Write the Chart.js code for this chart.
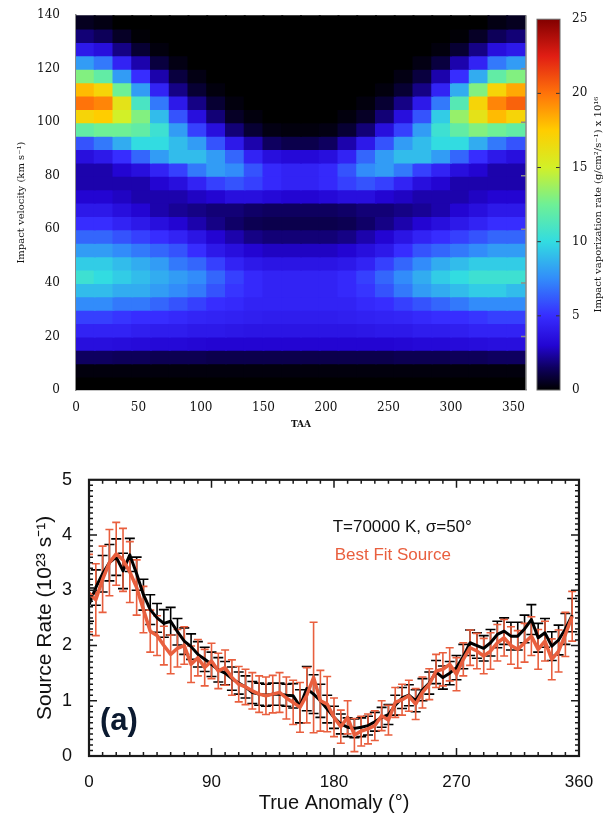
<!DOCTYPE html>
<html>
<head>
<meta charset="utf-8">
<script src="https://cdn.jsdelivr.net/npm/chart.js@4.4.1/dist/chart.umd.min.js"></script>
<style>
  body { margin: 0; background: #fff; }
  #wrap { position: relative; width: 608px; height: 816px; }
  canvas { position: absolute; }
  #heatmap { left: 0; top: 0; }
  #colorbar { left: 530px; top: 0; }
  #rates { left: 0; top: 460px; }
</style>
</head>
<body>
<div id="wrap">
  <canvas id="heatmap" width="530" height="440"></canvas>
  <canvas id="colorbar" width="78" height="440"></canvas>
  <canvas id="rates" width="608" height="356"></canvas>
</div>
<script>
// ---- top panel: impact vaporization rate, TAA vs impact velocity ----
const taaCenters = [7.5, 22.5, 37.5, 52.5, 67.5, 82.5, 97.5, 112.5, 127.5, 142.5, 157.5, 172.5,
                    187.5, 202.5, 217.5, 232.5, 247.5, 262.5, 277.5, 292.5, 307.5, 322.5, 337.5, 352.5];
const velocityCenters = [137.5, 132.5, 127.5, 122.5, 117.5, 112.5, 107.5, 102.5, 97.5, 92.5, 87.5, 82.5, 77.5, 72.5,
                         67.5, 62.5, 57.5, 52.5, 47.5, 42.5, 37.5, 32.5, 27.5, 22.5, 17.5, 12.5, 7.5, 2.5];
// one row per velocity (top to bottom), one value per TAA column, x 10^16
const vaporRate = [
  [0.5,0.3,0,0,0,0,0,0,0,0,0,0, 0,0,0,0,0,0,0,0,0,0,0.3,0.5],
  [1.8,1.4,0.6,0.1,0,0,0,0,0,0,0,0, 0,0,0,0,0,0,0,0,0.1,0.6,1.4,1.8],
  [4,3.5,2,0.8,0.2,0,0,0,0,0,0,0, 0,0,0,0,0,0,0,0.2,0.8,2,3.5,4],
  [8,7,4.5,2.5,1,0.3,0,0,0,0,0,0, 0,0,0,0,0,0,0.3,1,2.5,4.5,7,8],
  [13,12,8,5,2.5,1,0.3,0,0,0,0,0, 0,0,0,0,0,0.3,1,2.5,5,8.5,12,13],
  [18,17,12.5,8,4.5,2,0.8,0.2,0,0,0,0, 0,0,0,0,0.2,0.8,2,4.5,8.5,13,17,18.5],
  [20,19.5,16,11,7,4,2,0.8,0.2,0,0,0, 0,0,0,0.2,0.8,2,4,7,11.5,17,19.5,20.5],
  [17,17.5,15,13,9,6,3.5,1.8,0.6,0.2,0,0, 0,0,0.2,0.6,1.8,3.5,6,9.5,13.5,16,18,17],
  [12,12.5,12.5,12,10.5,8,5.5,3.5,1.8,0.8,0.3,0.2, 0.2,0.3,0.8,1.8,3.5,5.5,8,10.5,12,13,12.5,12],
  [6,7,8.5,10,10,9,8,6,4,2.5,1.5,1.2, 1.2,1.5,2.5,4,6,8,9,10,10,8.5,7,6],
  [3.5,4,5,6.5,8,9,9,8,6.5,4.5,3.5,3.2, 3.2,3.5,4.5,6.5,8,9,9,8,6.5,5,4,3.5],
  [2.5,2.5,3,3.5,4.5,5.5,7,8,7.5,6,4.8,4.5, 4.5,4.8,6,7.5,8,7,5.5,4.5,3.5,3,2.5,2.5],
  [2.5,2.5,2.5,2.5,3,3.5,4.5,5.5,6,5.5,4.8,4.5, 4.5,4.8,5.5,6,5.5,4.5,3.5,3,2.5,2.5,2.5,2.5],
  [3,3,2.8,2.5,2.5,2.5,2.8,3,3.5,3.5,3.2,3, 3,3.2,3.5,3.5,3,2.8,2.5,2.5,2.5,2.8,3,3],
  [4,4,3.5,3,2.5,2.2,2,1.8,1.8,1.6,1.5,1.5, 1.5,1.5,1.6,1.8,1.8,2,2.2,2.5,3,3.5,4,4],
  [5,5,4.5,4,3.5,3,2.5,2,1.6,1.3,1.2,1.2, 1.2,1.2,1.3,1.6,2,2.5,3,3.5,4,4.5,5,5],
  [6.5,6.5,6,5.5,5,4.5,3.8,3,2.5,2,1.8,1.8, 1.8,1.8,2,2.5,3,3.8,4.5,5,5.5,6,6.5,6.5],
  [8,8,7.5,7,6.5,6,5,4,3.5,3,2.8,2.8, 2.8,2.8,3,3.5,4,5,6,6.5,7,7.5,8,8],
  [9.5,9.5,9,8.5,8,7,6.5,5.5,4.5,4,3.8,3.8, 3.8,3.8,4,4.5,5.5,6.5,7.5,8.5,9,9.5,9.5,9.5],
  [10.5,10,9.5,9,8.5,8,7.5,6.5,5.5,4.8,4.5,4.5, 4.5,4.5,4.8,5.5,6.5,7.5,8.5,9.5,10,10.5,10.5,10.5],
  [9,9,8.5,8.5,8,7.5,7,6,5.2,4.8,4.5,4.5, 4.5,4.5,4.8,5.2,6,7,8,8.5,9,9.5,9.5,9],
  [7.5,7.5,7,7,6.5,6,5.5,5,4.8,4.5,4.5,4.5, 4.5,4.5,4.5,4.8,5,5.5,6,6.5,7,7.5,7.5,7.5],
  [5.5,5.5,5.2,5,5,4.8,4.6,4.5,4.4,4.3,4.2,4.2, 4.2,4.2,4.3,4.4,4.5,4.6,4.8,5,5,5.2,5.5,5.5],
  [4.5,4.5,4.5,4.3,4.2,4.2,4,4,3.9,3.8,3.8,3.8, 3.8,3.8,3.8,3.9,4,4,4.2,4.2,4.3,4.5,4.5,4.5],
  [3.5,3.5,3.4,3.3,3.2,3.2,3.1,3,3,3,3,3, 3,3,3,3,3,3.1,3.2,3.2,3.3,3.4,3.5,3.5],
  [1.5,1.5,1.4,1.4,1.3,1.3,1.3,1.2,1.2,1.2,1.2,1.2, 1.2,1.2,1.2,1.2,1.2,1.3,1.3,1.3,1.4,1.4,1.5,1.5],
  [0.2,0.2,0.2,0.2,0.2,0.2,0.2,0.2,0.2,0.2,0.2,0.2, 0.2,0.2,0.2,0.2,0.2,0.2,0.2,0.2,0.2,0.2,0.2,0.2],
  [0,0,0,0,0,0,0,0,0,0,0,0, 0,0,0,0,0,0,0,0,0,0,0,0]
];
const taaTicks = [0, 50, 100, 150, 200, 250, 300, 350];
const velocityTicks = [0, 20, 40, 60, 80, 100, 120, 140];
const colorbarRange = [0, 25];
const colorbarTicks = [0, 5, 10, 15, 20, 25];

// ---- bottom panel: source rate vs true anomaly ----
const anomaly = [0, 5, 10, 15, 20, 25, 30, 35, 40, 45, 50, 55,
                 60, 65, 70, 75, 80, 85, 90, 95, 100, 105, 110, 115,
                 120, 125, 130, 135, 140, 145, 150, 155, 160, 165, 170, 175,
                 180, 185, 190, 195, 200, 205, 210, 215, 220, 225, 230, 235,
                 240, 245, 250, 255, 260, 265, 270, 275, 280, 285, 290, 295,
                 300, 305, 310, 315, 320, 325, 330, 335, 340, 345, 350, 355];
const obsRate = [2.74, 3.05, 3.3, 3.5, 3.6, 3.35, 3.64, 3.3, 2.92, 2.65, 2.5, 2.4,
                 2.44, 2.25, 2.08, 1.98, 1.84, 1.75, 1.66, 1.56, 1.5, 1.4, 1.32, 1.25,
                 1.15, 1.12, 1.1, 1.12, 1.12, 1.1, 1.09, 0.9, 1.22, 1.12, 1.0, 0.85,
                 0.7, 0.58, 0.52, 0.5, 0.52, 0.55, 0.62, 0.7, 0.75, 0.92, 1.05, 1.1,
                 1.0, 1.2, 1.32, 1.52, 1.42, 1.5, 1.6, 1.8, 2.05, 2.0, 1.95, 2.05,
                 2.2, 2.26, 2.17, 2.17, 2.3, 2.47, 2.14, 2.23, 1.99, 2.1, 2.3, 2.55];
const obsErr = [0.3, 0.32, 0.33, 0.33, 0.33, 0.32, 0.3, 0.3, 0.28, 0.27, 0.26, 0.25,
                0.25, 0.24, 0.24, 0.23, 0.23, 0.22, 0.22, 0.22, 0.21, 0.21, 0.2, 0.2,
                0.2, 0.2, 0.2, 0.2, 0.2, 0.2, 0.22, 0.3, 0.4, 0.35, 0.3, 0.25,
                0.2, 0.18, 0.17, 0.17, 0.17, 0.17, 0.17, 0.18, 0.18, 0.18, 0.19, 0.19,
                0.2, 0.2, 0.2, 0.21, 0.21, 0.21, 0.22, 0.22, 0.23, 0.23, 0.23, 0.24,
                0.24, 0.24, 0.25, 0.25, 0.25, 0.27, 0.26, 0.26, 0.26, 0.27, 0.28, 0.3];
const fitRate = [2.95, 2.83, 3.2, 3.5, 3.66, 3.55, 3.33, 3.05, 2.65, 2.26, 2.18, 2.0,
                 1.84, 1.95, 2.0, 1.66, 1.78, 1.6, 1.72, 1.54, 1.6, 1.42, 1.3, 1.25,
                 1.18, 1.12, 1.09, 1.12, 1.15, 1.05, 0.97, 0.88, 1.1, 1.42, 1.0, 0.94,
                 0.7, 0.53, 0.7, 0.38, 0.45, 0.49, 0.55, 0.73, 0.65, 0.97, 1.02, 1.09,
                 0.94, 1.15, 1.3, 1.54, 1.57, 1.66, 1.48, 1.75, 1.96, 1.9, 1.81, 1.9,
                 2.05, 2.14, 2.0, 1.93, 2.05, 2.17, 1.93, 2.08, 1.75, 1.9, 2.2, 2.53];
const fitErr = [0.7, 0.65, 0.6, 0.6, 0.57, 0.57, 0.55, 0.5, 0.42, 0.38, 0.36, 0.35,
                0.35, 0.34, 0.34, 0.33, 0.33, 0.33, 0.32, 0.32, 0.32, 0.32, 0.32, 0.32,
                0.33, 0.33, 0.34, 0.34, 0.36, 0.38, 0.4, 0.45, 0.5, 1.0, 0.55, 0.5,
                0.35, 0.3, 0.3, 0.3, 0.27, 0.27, 0.27, 0.27, 0.27, 0.27, 0.28, 0.28,
                0.28, 0.28, 0.28, 0.3, 0.3, 0.3, 0.3, 0.3, 0.32, 0.32, 0.32, 0.33,
                0.33, 0.33, 0.34, 0.34, 0.35, 0.35, 0.36, 0.36, 0.37, 0.38, 0.4, 0.45];
const rateTicks = [0, 1, 2, 3, 4, 5];
const anomalyTicks = [0, 90, 180, 270, 360];

// colour map (value -> rgb), black at zero up to dark red
const cmapStops = [
  [0, [0, 0, 0]], [1.5, [14, 0, 95]], [3, [35, 5, 210]], [5, [55, 45, 255]],
  [7.5, [50, 140, 250]], [10, [50, 220, 225]], [12.5, [110, 240, 150]],
  [15, [210, 240, 40]], [17.5, [255, 205, 0]], [20, [255, 115, 10]],
  [22.5, [225, 30, 20]], [25, [130, 0, 0]]
];

function rateColor(v) {
  for (let i = 1; i < cmapStops.length; i++) {
    const [v1, c1] = cmapStops[i];
    const [v0, c0] = cmapStops[i - 1];
    if (v <= v1) {
      const f = (v - v0) / (v1 - v0);
      const c = c0.map((a, k) => Math.round(a + (c1[k] - a) * f));
      return `rgb(${c[0]},${c[1]},${c[2]})`;
    }
  }
  return 'rgb(130,0,0)';
}

const serif = "'DejaVu Serif', serif";
const sans = "'Liberation Sans', Arial, sans-serif";
const RED = 'rgb(233,95,62)';
const cellHalf = 2.5;

// right-edge ticks of the heatmap frame
const heatFrame = {
  id: 'heatFrame',
  afterDraw(chart) {
    const { ctx, chartArea: a, scales: { y } } = chart;
    ctx.save();
    ctx.strokeStyle = '#8a8a8a';
    ctx.lineWidth = 1.5;
    ctx.beginPath();
    ctx.moveTo(a.right, a.top);
    ctx.lineTo(a.right, a.bottom);
    for (let v = 20; v < 140; v += 20) {
      const py = y.getPixelForValue(v);
      ctx.moveTo(a.right, py);
      ctx.lineTo(a.right - 5, py);
    }
    ctx.stroke();
    ctx.restore();
  }
};

new Chart(document.getElementById('heatmap'), {
  type: 'bar',
  data: {
    datasets: velocityCenters.map((v, r) => ({
      data: taaCenters.map(t => ({ x: t, y: [v - cellHalf, v + cellHalf] })),
      backgroundColor: vaporRate[r].map(rateColor),
      borderWidth: 0,
      grouped: false,
      barPercentage: 1,
      categoryPercentage: 1,
      inflateAmount: 1
    }))
  },
  options: {
    responsive: false,
    animation: false,
    layout: { padding: { left: 0, right: 4, top: 13, bottom: 0 } },
    scales: {
      x: {
        type: 'linear', min: 0, max: 360, offset: false,
        afterBuildTicks: s => { s.ticks = taaTicks.map(v => ({ value: v })); },
        afterFit: s => { s.height = 50; },
        ticks: { padding: 3, color: '#111', font: { family: serif, size: 12 } },
        grid: { display: false },
        border: { color: '#8a8a8a', width: 1.5 },
        title: { display: true, text: 'TAA', color: '#111', padding: { bottom: 10 },
                 font: { family: serif, size: 9, weight: 'bold' } }
      },
      y: {
        min: 0, max: 140,
        afterBuildTicks: s => { s.ticks = velocityTicks.map(v => ({ value: v })); },
        afterFit: s => { s.width = 76; },
        ticks: { padding: 8, color: '#111', font: { family: serif, size: 12 } },
        grid: { display: false },
        border: { color: '#8a8a8a', width: 1.5 },
        title: { display: true, text: 'Impact velocity (km s⁻¹)', color: '#111', padding: { top: 15 },
                 font: { family: serif, size: 10 } }
      }
    },
    plugins: { legend: { display: false }, tooltip: { enabled: false } }
  },
  plugins: [heatFrame]
});

// colour bar: one floating bar painted with the colour map gradient
const colorbarDecor = {
  id: 'colorbarDecor',
  afterDraw(chart) {
    const { ctx, chartArea: a, scales: { y } } = chart;
    ctx.save();
    ctx.strokeStyle = '#333';
    ctx.lineWidth = 1;
    ctx.beginPath();
    for (let v = 5; v < 25; v += 5) {
      const py = y.getPixelForValue(v);
      ctx.moveTo(a.left, py); ctx.lineTo(a.left + 4, py);
      ctx.moveTo(a.right, py); ctx.lineTo(a.right - 4, py);
    }
    ctx.stroke();
    ctx.strokeStyle = '#666';
    ctx.strokeRect(a.left, a.top, a.right - a.left, a.bottom - a.top);
    ctx.translate(68, (a.top + a.bottom) / 2);
    ctx.rotate(-Math.PI / 2);
    ctx.fillStyle = '#111';
    ctx.font = `10px ${serif}`;
    ctx.textAlign = 'center';
    ctx.textBaseline = 'middle';
    ctx.fillText('Impact vaporization rate (g/cm²/s⁻¹) x 10¹⁶', 0, 0);
    ctx.restore();
  }
};

new Chart(document.getElementById('colorbar'), {
  type: 'bar',
  data: {
    labels: [''],
    datasets: [{
      data: [colorbarRange],
      borderWidth: 0,
      barPercentage: 1,
      categoryPercentage: 1,
      backgroundColor: (c) => {
        const y = c.chart.scales.y;
        if (!y || !c.chart.chartArea) return '#000';
        const g = c.chart.ctx.createLinearGradient(0, y.getPixelForValue(0), 0, y.getPixelForValue(25));
        cmapStops.forEach(([v, col]) => g.addColorStop(v / 25, `rgb(${col.join(',')})`));
        return g;
      }
    }]
  },
  options: {
    responsive: false,
    animation: false,
    layout: { padding: { left: 7, right: 0, top: 13, bottom: 50 } },
    scales: {
      x: { display: false },
      y: {
        position: 'right', min: 0, max: 25,
        afterBuildTicks: s => { s.ticks = colorbarTicks.map(v => ({ value: v })); },
        afterFit: s => { s.width = 48; },
        ticks: { padding: 12, color: '#111', font: { family: serif, size: 12 } },
        grid: { display: false, drawTicks: false },
        border: { display: false }
      }
    },
    plugins: { legend: { display: false }, tooltip: { enabled: false } }
  },
  plugins: [colorbarDecor]
});

// error bars drawn under the lines, black set first then red
const errorBars = {
  id: 'errorBars',
  beforeDatasetsDraw(chart) {
    const { ctx, chartArea: a, scales: { x, y } } = chart;
    ctx.save();
    ctx.beginPath();
    ctx.rect(a.left, a.top - 2, a.right - a.left, a.bottom - a.top + 4);
    ctx.clip();
    for (let d = chart.data.datasets.length - 1; d >= 0; d--) {
      const ds = chart.data.datasets[d];
      ctx.strokeStyle = ds.borderColor;
      ctx.lineWidth = 1.6;
      ctx.beginPath();
      ds.data.forEach((p, i) => {
        const px = x.getPixelForValue(p.x);
        const hi = y.getPixelForValue(p.y + ds.errors[i]);
        const lo = y.getPixelForValue(p.y - ds.errors[i]);
        const w = ds.capWidth / 2;
        ctx.moveTo(px, hi); ctx.lineTo(px, lo);
        ctx.moveTo(px - w, hi); ctx.lineTo(px + w, hi);
        ctx.moveTo(px - w, lo); ctx.lineTo(px + w, lo);
      });
      ctx.stroke();
    }
    ctx.restore();
  }
};

// frame with inward ticks and the text labels
const rateFrame = {
  id: 'rateFrame',
  afterDraw(chart) {
    const { ctx, chartArea: a, scales: { x, y } } = chart;
    ctx.save();
    ctx.strokeStyle = '#1a1a1a';
    ctx.lineWidth = 1.5;
    ctx.beginPath();
    for (let t = 10; t < 360; t += 10) {
      const px = x.getPixelForValue(t);
      const len = t % 90 === 0 ? 8 : 4;
      ctx.moveTo(px, a.bottom); ctx.lineTo(px, a.bottom - len);
      ctx.moveTo(px, a.top); ctx.lineTo(px, a.top + len);
    }
    for (let k = 1; k < 50; k++) {
      const py = y.getPixelForValue(k / 10);
      const len = k % 10 === 0 ? 8 : 4;
      ctx.moveTo(a.left, py); ctx.lineTo(a.left + len, py);
      ctx.moveTo(a.right, py); ctx.lineTo(a.right - len, py);
    }
    ctx.stroke();
    ctx.lineWidth = 2.2;
    ctx.strokeRect(a.left, a.top, a.right - a.left, a.bottom - a.top);

    ctx.textBaseline = 'middle';
    ctx.textAlign = 'left';
    ctx.font = `17px ${sans}`;
    ctx.fillStyle = '#111';
    ctx.fillText('T=70000 K, σ=50°', x.getPixelForValue(179), y.getPixelForValue(4.14));
    ctx.fillStyle = RED;
    ctx.fillText('Best Fit Source', x.getPixelForValue(180.5), y.getPixelForValue(3.64));
    ctx.fillStyle = '#0b1a30';
    ctx.font = `bold 31px 'Liberation Sans Narrow', ${sans}`;
    ctx.fillText('(a)', x.getPixelForValue(8), y.getPixelForValue(0.62));
    ctx.restore();
  }
};

new Chart(document.getElementById('rates'), {
  type: 'line',
  data: {
    datasets: [
      {
        label: 'Best Fit Source',
        data: anomaly.map((t, i) => ({ x: t, y: fitRate[i] })),
        errors: fitErr,
        capWidth: 8,
        borderColor: RED,
        borderWidth: 3.5,
        borderJoinStyle: 'round',
        pointRadius: 0,
        tension: 0
      },
      {
        label: 'Observed',
        data: anomaly.map((t, i) => ({ x: t, y: obsRate[i] })),
        errors: obsErr,
        capWidth: 10,
        borderColor: '#000',
        borderWidth: 3,
        borderJoinStyle: 'round',
        pointRadius: 0,
        tension: 0
      }
    ]
  },
  options: {
    responsive: false,
    animation: false,
    layout: { padding: { left: 0, right: 29, top: 16, bottom: 0 } },
    scales: {
      x: {
        type: 'linear', min: 0, max: 360,
        afterBuildTicks: s => { s.ticks = anomalyTicks.map(v => ({ value: v })); },
        afterFit: s => { s.height = 60; },
        ticks: { padding: 8, color: '#111', font: { family: sans, size: 17 } },
        grid: { display: false },
        border: { display: false },
        title: { display: true, text: 'True Anomaly (°)', color: '#111', padding: { bottom: 1 },
                 font: { family: sans, size: 20 } }
      },
      y: {
        min: 0, max: 5,
        afterBuildTicks: s => { s.ticks = rateTicks.map(v => ({ value: v })); },
        afterFit: s => { s.width = 89; },
        ticks: { padding: 9, color: '#111', font: { family: sans, size: 18 } },
        grid: { display: false },
        border: { display: false },
        title: { display: true, text: 'Source Rate (10²³ s⁻¹)', color: '#111', padding: { top: 33 },
                 font: { family: sans, size: 21 } }
      }
    },
    plugins: { legend: { display: false }, tooltip: { enabled: false } }
  },
  plugins: [errorBars, rateFrame]
});
</script>
</body>
</html>
